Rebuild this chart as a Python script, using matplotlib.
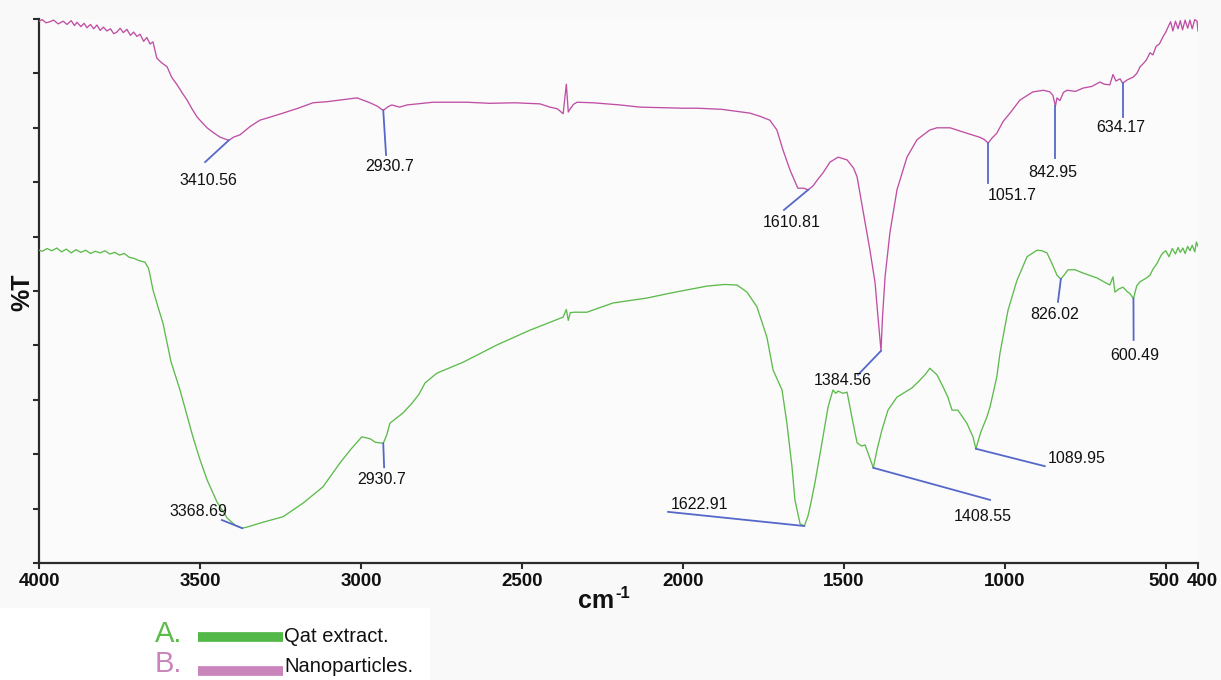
import numpy as np
import matplotlib
matplotlib.use("Agg")
import matplotlib.pyplot as plt
import matplotlib.transforms as mtransforms
from matplotlib.lines import Line2D
from matplotlib.patches import Rectangle

plt.rcParams['font.family'] = ['Liberation Sans', 'DejaVu Sans']

# ---- FTIR spectrum: Nanoparticles (B) ----
wn_nano = [4000, 3990, 3978, 3966, 3955, 3940, 3925, 3913, 3900, 3890,
           3882, 3870, 3860, 3851, 3840, 3830, 3820, 3810, 3800, 3789,
           3778, 3768, 3758, 3748, 3738, 3727, 3716, 3706, 3696, 3686,
           3675, 3665, 3655, 3646, 3634, 3620, 3602, 3588, 3571, 3555,
           3540, 3525, 3509, 3494, 3478, 3458, 3438, 3425, 3410.56, 3395,
           3376, 3345, 3314, 3280, 3242, 3195, 3149, 3105, 3065, 3012,
           2972, 2950, 2930.7, 2915, 2904, 2880, 2857, 2776, 2671, 2600,
           2522, 2444, 2413, 2390, 2372, 2362, 2356, 2351, 2340, 2329,
           2279, 2195, 2133, 2000, 1956, 1880, 1792, 1760, 1730, 1708,
           1689, 1667, 1643, 1625, 1610.81, 1596, 1580, 1565, 1543, 1518,
           1490, 1470, 1459, 1441, 1419, 1403, 1394, 1384.56, 1380, 1372,
           1357, 1335, 1304, 1273, 1233, 1211, 1170, 1118, 1080, 1065,
           1051.7, 1040, 1025, 1005, 984, 953, 913, 880, 860, 851,
           842.95, 838, 829, 818, 807, 780, 757, 730, 705, 690,
           674, 664, 655, 642, 634.17, 620, 602, 590, 580, 570,
           560, 549, 540, 530, 520, 509, 500, 490, 485, 478,
           470, 462, 455, 448, 440, 432, 425, 418, 410, 403,
           400]
t_nano = [99.6, 99.9, 99.3, 99.5, 99.8, 99.1, 99.6, 99.0, 99.7, 98.8,
          99.4, 98.6, 99.2, 98.4, 99.0, 98.2, 98.9, 97.9, 98.5, 97.8,
          98.2, 97.3, 97.6, 98.3, 97.5, 98.1, 97.0, 97.6, 96.8, 97.2,
          95.9, 96.6, 95.4, 95.8, 92.8, 92.0, 91.2, 89.3, 87.9, 86.4,
          85.1, 83.5, 82.0, 81.0, 80.0, 79.1, 78.3, 78.0, 77.7, 78.3,
          78.7, 80.2, 81.4, 82.0, 82.7, 83.6, 84.6, 84.8, 85.1, 85.5,
          84.6, 84.0, 83.2, 83.9, 84.2, 83.8, 84.2, 84.7, 84.7, 84.5,
          84.6, 84.4, 83.8, 83.5, 82.6, 88.0, 82.9, 83.4, 84.3, 84.7,
          84.6, 84.2, 83.8, 83.6, 83.6, 83.4, 82.7, 82.1, 81.4, 79.6,
          75.9, 72.2, 68.9, 68.9, 68.6, 69.3, 70.6, 71.7, 73.7, 74.6,
          74.1, 72.6, 71.0, 64.9, 57.5, 51.5, 45.2, 39.0, 45.2, 52.6,
          60.7, 68.6, 74.6, 77.8, 79.6, 80.0, 80.0, 79.0, 78.3, 77.9,
          77.2, 78.1, 79.0, 81.2, 82.7, 85.1, 86.6, 86.9, 86.6, 86.0,
          84.0, 85.5, 85.0, 86.5, 86.9, 86.7, 87.3, 87.6, 88.4, 88.0,
          87.9, 89.8, 88.6, 89.0, 88.2, 88.8, 89.3, 90.0, 91.2, 91.8,
          92.5, 93.8, 93.4, 95.0, 95.4, 96.7, 97.6, 98.9, 99.5, 97.8,
          99.6, 98.2, 99.7, 98.0, 99.8, 98.3, 99.8, 98.2, 99.9, 99.6,
          97.8]

# ---- FTIR spectrum: Qat extract (A) ----
wn_qat = [4000, 3990, 3975, 3960, 3945, 3930, 3915, 3900, 3885, 3870,
          3855, 3840, 3825, 3810, 3795, 3780, 3765, 3750, 3735, 3720,
          3705, 3690, 3671, 3660, 3655, 3646, 3630, 3615, 3590, 3562,
          3542, 3522, 3500, 3478, 3447, 3416, 3390, 3368.69, 3354, 3304,
          3242, 3180, 3118, 3065, 3030, 2997, 2970, 2956, 2930.7, 2920,
          2910, 2869, 2841, 2820, 2801, 2764, 2683, 2577, 2475, 2372,
          2362, 2356, 2350, 2338, 2298, 2217, 2112, 2040, 1925, 1870,
          1832, 1801, 1770, 1739, 1720, 1692, 1677, 1661, 1652, 1636,
          1622.91, 1612, 1605, 1590, 1568, 1549, 1534, 1525, 1518, 1503,
          1490, 1475, 1459, 1445, 1434, 1425, 1408.55, 1397, 1382, 1363,
          1335, 1310, 1288, 1264, 1245, 1233, 1211, 1192, 1177, 1164,
          1146, 1118, 1099, 1089.95, 1075, 1056, 1046, 1025, 1015, 990,
          962, 931, 900, 885, 869, 854, 838, 826.02, 815, 804,
          782, 757, 714, 674, 664, 658, 645, 633, 620, 611,
          600.49, 590, 580, 560, 549, 540, 527, 515, 509, 500,
          490, 480, 470, 462, 455, 447, 440, 432, 425, 418,
          410, 405, 400]
t_qat = [57.5, 57.3, 57.8, 57.4, 57.9, 57.2, 57.7, 57.0, 57.6, 57.1,
         57.5, 56.9, 57.3, 57.0, 57.4, 56.8, 57.1, 56.6, 56.9, 56.2,
         56.0, 55.6, 55.3, 54.2, 52.9, 50.2, 47.0, 44.1, 37.0, 31.8,
         27.5, 23.2, 19.0, 15.3, 11.2, 8.3, 6.9, 6.4, 6.6, 7.5,
         8.5, 11.0, 14.0, 18.4, 21.0, 23.2, 22.8, 22.2, 22.0, 23.5,
         25.7, 27.6, 29.4, 31.0, 33.1, 34.9, 36.9, 40.1, 42.8, 45.2,
         46.6, 44.6, 46.0, 46.1, 46.1, 47.8, 48.7, 49.6, 50.9, 51.2,
         51.1, 49.8, 47.1, 41.5, 35.5, 31.8, 25.7, 17.6, 11.6, 7.2,
         6.8, 8.5, 10.3, 14.7, 22.1, 28.7, 31.8, 31.2, 31.6, 31.2,
         31.4, 26.8, 22.1, 21.5, 21.7, 20.2, 17.5, 20.8, 24.4, 28.1,
         30.5, 31.4, 32.2, 33.6, 34.8, 35.8, 34.6, 32.4, 30.5, 28.1,
         28.1, 25.7, 23.2, 21.0, 24.0, 26.8, 28.7, 34.2, 38.6, 46.5,
         52.0, 56.3, 57.5, 57.4, 57.0, 55.1, 52.9, 52.2, 53.0, 53.9,
         53.9, 53.3, 52.4, 51.1, 52.6, 49.8, 50.4, 50.7, 49.9, 49.5,
         48.6, 51.0, 51.7, 52.4, 52.9, 54.0, 55.1, 56.5, 57.0, 57.4,
         56.3, 57.8, 56.8, 58.0, 57.1, 57.9, 56.9, 58.2, 57.4, 58.4,
         57.2, 59.0, 58.2]

assert len(wn_nano) == len(t_nano), (len(wn_nano), len(t_nano))
assert len(wn_qat) == len(t_qat), (len(wn_qat), len(t_qat))

x_ticks = [4000, 3500, 3000, 2500, 2000, 1500, 1000, 500, 400]
x_tick_labels = ["4000", "3500", "3000", "2500", "2000", "1500", "1000", "500", "400"]

# peak labels: (peak wavenumber, leader end, text anchor, alignment)
peaks_nano = [3410.56, 2930.7, 1610.81, 1384.56, 1051.7, 842.95, 634.17]
peaks_qat = [3368.69, 2930.7, 1622.91, 1408.55, 1089.95, 826.02, 600.49]
layout_nano = [((3484, 73.7), (3475, 70.4), 'center'),
               ((2922, 75.0), (2910, 72.8), 'center'),
               ((1686, 64.9), (1661, 62.5), 'center'),
               ((1456, 34.6), (1503, 33.5), 'center'),
               ((1051.7, 69.9), (976, 67.6), 'center'),
               ((842.95, 74.4), (850, 71.7), 'center'),
               ((634.17, 82.0), (640, 80.0), 'center')]
layout_qat = [((3432, 7.9), (3416, 9.4), 'right'),
              ((2928, 17.6), (2935, 15.3), 'center'),
              ((2046, 9.4), (1947, 10.8), 'center'),
              ((1046, 11.6), (1068, 8.6), 'center'),
              ((876, 17.8), (866, 19.3), 'left'),
              ((835, 48.0), (844, 45.6), 'center'),
              ((600, 41.0), (596, 38.2), 'center')]

GREEN = '#5dbb4c'
PINK = '#c04ea4'
LEADER = '#5568c9'
AXIS = '#2b2b2b'

W, H = 1221, 680
fig = plt.figure(figsize=(W / 100, H / 100), dpi=100, facecolor='#f9f9f9')
ax = fig.add_axes([39 / W, 1 - 563 / H, (1198 - 39) / W, (563 - 19) / H])
ax.set_facecolor('#fbfbfb')

ax.plot(wn_qat, t_qat, color=GREEN, lw=0.95, zorder=3)
ax.plot(wn_nano, t_nano, color=PINK, lw=0.95, zorder=3)


def label_peaks(peaks, layout, wn, t):
    wn_arr = np.array(wn)[::-1]
    t_arr = np.array(t)[::-1]
    for pk, (end, txt, ha) in zip(peaks, layout):
        y0 = np.interp(pk, wn_arr, t_arr)
        ax.plot([pk, end[0]], [y0, end[1]], color=LEADER, lw=1.3, zorder=4)
        ax.text(txt[0], txt[1], f"{pk:g}", ha=ha, va='center',
                fontsize=11.5, color='#111111', zorder=5)


label_peaks(peaks_nano, layout_nano, wn_nano, t_nano)
label_peaks(peaks_qat, layout_qat, wn_qat, t_qat)

ax.set_xlim(4000, 400)
ax.set_ylim(0, 100)
ax.set_xticks(x_ticks)
ax.set_xticklabels(x_tick_labels, fontsize=13.5, fontweight='bold')
ax.set_yticks(np.arange(0, 101, 10))
ax.set_yticklabels([])
for side in ('top', 'right'):
    ax.spines[side].set_visible(False)
for side in ('left', 'bottom'):
    ax.spines[side].set_color(AXIS)
    ax.spines[side].set_linewidth(1.6)
ax.tick_params(axis='both', direction='out', length=4, width=1.5, color=AXIS)
ax.tick_params(axis='x', pad=3, labelcolor='#111111')

# the two closely spaced end labels are nudged apart
tick_labels = ax.get_xticklabels()
tick_labels[-2].set_transform(tick_labels[-2].get_transform() +
                              mtransforms.ScaledTranslation(-2 / 100, 0, fig.dpi_scale_trans))
tick_labels[-1].set_transform(tick_labels[-1].get_transform() +
                              mtransforms.ScaledTranslation(4 / 100, 0, fig.dpi_scale_trans))

fig.text(22 / W, 1 - 292 / H, "%T", rotation=90, ha='center', va='center',
         fontsize=18, fontweight='bold', color='#111111')
fig.text(614 / W, 1 - 601 / H, "cm", ha='right', va='center',
         fontsize=18, fontweight='bold', color='#111111')
fig.text(615 / W, 1 - 593 / H, "-1", ha='left', va='center',
         fontsize=12, fontweight='bold', color='#111111')

# legend block beneath the axes
fig.add_artist(Rectangle((0, 0), 430 / W, 72 / H, transform=fig.transFigure,
                         facecolor='white', edgecolor='none', zorder=0))
entries = [("A.", GREEN, '#52b848', "Qat extract.", 634, 637),
           ("B.", '#c984bb', '#c984bb', "Nanoparticles.", 664, 671)]
for tag, tag_col, bar_col, name, py, bar_y in entries:
    fig.text(155 / W, 1 - py / H, tag, ha='left', va='center',
             fontsize=21, color=tag_col)
    fig.add_artist(Line2D([198 / W, 283 / W], [1 - bar_y / H, 1 - bar_y / H],
                          transform=fig.transFigure, color=bar_col, lw=7,
                          solid_capstyle='butt'))
    fig.text(284 / W, 1 - (py + 2) / H, name, ha='left', va='center',
             fontsize=14.5, color='#111111')

fig.savefig("out.png", dpi=100, facecolor=fig.get_facecolor())
